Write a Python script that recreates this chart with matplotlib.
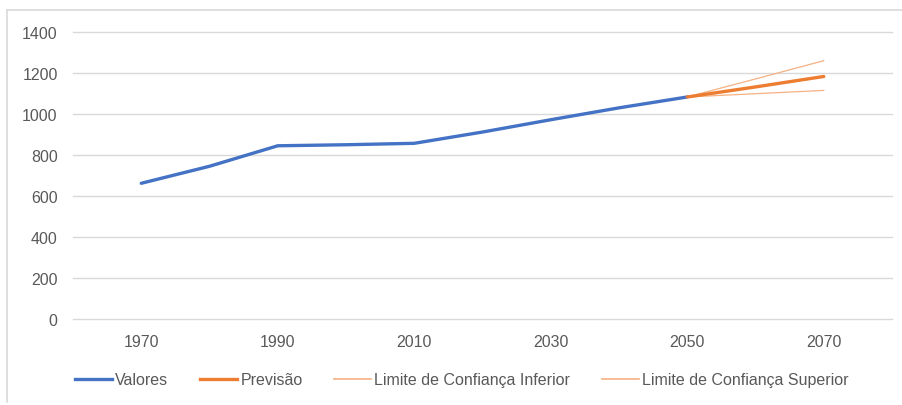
#Line chart: observed values and forecast with confidence limits

#imports
import matplotlib
matplotlib.use("Agg")
import matplotlib.pyplot as plt
from matplotlib.lines import Line2D

#data
anos = [1970, 1980, 1990, 2000, 2010, 2020, 2030, 2040, 2050]
valores = [662, 745, 845, 850, 857, 912, 972, 1030, 1083]

anos_prev = [2050, 2060, 2070]
previsao = [1083, 1132, 1183]
lim_inferior = [1083, 1099, 1115]
lim_superior = [1083, 1171, 1260]

ticks_x = [1970, 1990, 2010, 2030, 2050, 2070]
ticks_y = [0, 200, 400, 600, 800, 1000, 1200, 1400]

azul = "#4472C4"
laranja = "#ED7D31"
laranja_claro = "#F4B183"
cinza_texto = "#595959"

plt.rcParams['font.family'] = ['Liberation Sans', 'DejaVu Sans']

fig = plt.figure(figsize=(9.02, 4.06), dpi=100)
W, H = 902.0, 406.0

#light frame: only top and left edges show in the picture
borda = "#d9d9d9"
fig.add_artist(Line2D([7 / W, 7 / W], [(H - 403) / H, (H - 11) / H],
	transform=fig.transFigure, color=borda, linewidth=1.2))
fig.add_artist(Line2D([7 / W, 1.0], [(H - 11) / H, (H - 11) / H],
	transform=fig.transFigure, color=borda, linewidth=1.2))

ax = fig.add_axes([73 / W, (H - 320) / H, (892 - 73) / W, (320 - 33) / H])

ax.plot(anos, valores, color=azul, linewidth=2.4, solid_capstyle="round", zorder=4)
ax.plot(anos_prev, lim_superior, color=laranja_claro, linewidth=0.9, zorder=3)
ax.plot(anos_prev, lim_inferior, color=laranja_claro, linewidth=0.9, zorder=3)
ax.plot(anos_prev, previsao, color=laranja, linewidth=2.4, solid_capstyle="round", zorder=4)

ax.set_xlim(1960, 2080)
ax.set_ylim(0, 1400)
ax.set_xticks(ticks_x)
ax.set_yticks(ticks_y)
ax.tick_params(length=0, colors=cinza_texto, labelsize=11.5)
ax.tick_params(axis="x", pad=11)
ax.tick_params(axis="y", pad=11)

ax.grid(axis="y", color="#d9d9d9", linewidth=1)
for g in ax.get_ygridlines():
	g.set_clip_on(False)
ax.set_axisbelow(True)
for s in ax.spines.values():
	s.set_visible(False)

#legend
handles = [
	Line2D([], [], color=azul, linewidth=2.4),
	Line2D([], [], color=laranja, linewidth=2.4),
	Line2D([], [], color=laranja_claro, linewidth=1.2),
	Line2D([], [], color=laranja_claro, linewidth=1.2),
]
labels = ["Valores", "Previsão", "Limite de Confiança Inferior", "Limite de Confiança Superior"]
fig.legend(handles, labels, loc="center", bbox_to_anchor=(462 / W, (H - 381) / H),
	ncol=4, frameon=False, fontsize=11.5, handlelength=2.3, handletextpad=0.2,
	columnspacing=2.0, labelcolor=cinza_texto)

fig.savefig("out.png", dpi=100)
